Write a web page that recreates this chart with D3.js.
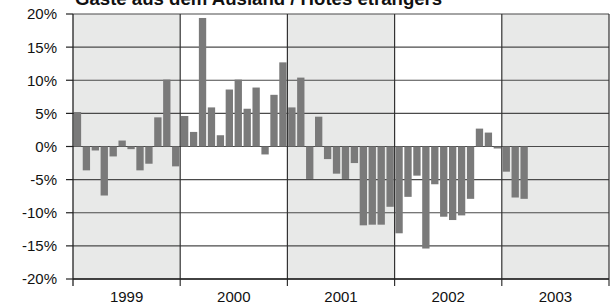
<!DOCTYPE html>
<html>
<head>
<meta charset="utf-8">
<script src="https://cdn.jsdelivr.net/npm/d3@7"></script>
<style>
body{margin:0;background:#fff;}
</style>
</head>
<body>
<script>
// monthly change, guests from abroad (%)
var years = ["1999", "2000", "2001", "2002", "2003"];
var values1999 = [5.2, -3.6, -0.6, -7.4, -1.5, 0.9, -0.4, -3.6, -2.6, 4.4, 10.1, -3.0];
var values2000 = [4.6, 2.2, 19.4, 5.9, 1.7, 8.6, 10.1, 5.7, 8.9, -1.2, 7.8, 12.7];
var values2001 = [5.9, 10.4, -4.9, 4.5, -1.9, -4.1, -4.9, -2.5, -11.9, -11.8, -11.8, -9.1];
var values2002 = [-13.1, -7.6, -4.4, -15.4, -5.7, -10.6, -11.1, -10.4, -7.9, 2.7, 2.1, -0.3];
var values2003 = [-3.8, -7.7, -7.9];
var yTicks = [-20, -15, -10, -5, 0, 5, 10, 15, 20];
var title = "Gäste aus dem Ausland / Hôtes étrangers";

var width = 612, height = 307;
var margin = {left:73, right:3, top:14, bottom:28};

var allValues = [values1999, values2000, values2001, values2002, values2003];
var data = [];
allValues.forEach(function(arr, yi){
   arr.forEach(function(v, m){
      data.push({key: yi*12 + m, value: v});
   });
});

var svg = d3.select("body").append("svg")
   .attr("width", width).attr("height", height);

var x = d3.scaleLinear().domain([0, years.length*12])
   .range([margin.left, width - margin.right]);
var y = d3.scaleLinear().domain([-20, 20])
   .range([height - margin.bottom, margin.top]);
var band = d3.scaleBand().domain(d3.range(years.length*12))
   .range([margin.left, width - margin.right]).paddingInner(0.18).paddingOuter(0.09);

// shaded years
svg.selectAll("rect.year").data(years).enter().append("rect")
   .attr("class","year")
   .attr("x", function(d,i){return x(i*12);})
   .attr("y", y(20))
   .attr("width", function(d,i){return x(12) - x(0);})
   .attr("height", y(-20) - y(20))
   .attr("fill", function(d,i){return i%2==0 ? "#e8e9e8" : "#ffffff";});

// horizontal grid
svg.selectAll("line.grid").data(yTicks).enter().append("line")
   .attr("class","grid")
   .attr("x1", margin.left).attr("x2", width - margin.right)
   .attr("y1", d => y(d)).attr("y2", d => y(d))
   .attr("stroke", "#4a4a4a")
   .attr("stroke-width", 1.2);

// year separators
svg.selectAll("line.sep").data(d3.range(1, years.length+1)).enter().append("line")
   .attr("class","sep")
   .attr("x1", d => x(d*12)).attr("x2", d => x(d*12))
   .attr("y1", y(20)).attr("y2", y(-20) + 7)
   .attr("stroke", "#333")
   .attr("stroke-width", 1.2);

// bars
svg.selectAll("rect.bar").data(data).enter().append("rect")
   .attr("class","bar")
   .attr("x", d => band(d.key))
   .attr("width", band.bandwidth())
   .attr("y", d => y(Math.max(0, d.value)))
   .attr("height", d => Math.max(1, Math.abs(y(d.value) - y(0))))
   .attr("fill", "#7a7a7a");

// left axis line
svg.append("line")
   .attr("x1", margin.left).attr("x2", margin.left)
   .attr("y1", y(20)).attr("y2", y(-20) + 7)
   .attr("stroke", "#222").attr("stroke-width", 1.3);

// y ticks
svg.selectAll("line.ytick").data(yTicks).enter().append("line")
   .attr("class","ytick")
   .attr("x1", margin.left - 7).attr("x2", margin.left)
   .attr("y1", d => y(d)).attr("y2", d => y(d))
   .attr("stroke", "#222").attr("stroke-width", 1.2);

svg.selectAll("text.ylab").data(yTicks).enter().append("text")
   .attr("class","ylab")
   .text(d => d + "%")
   .attr("x", 57)
   .attr("y", d => y(d))
   .attr("dy", "0.36em")
   .attr("text-anchor", "end")
   .attr("font-family", "Liberation Sans, Arial, sans-serif")
   .attr("font-size", "15px")
   .attr("fill", "#111");

// bottom axis line
svg.append("line")
   .attr("x1", margin.left).attr("x2", width - margin.right)
   .attr("y1", y(-20)).attr("y2", y(-20))
   .attr("stroke", "#222").attr("stroke-width", 1.3);

svg.selectAll("text.xlab").data(years).enter().append("text")
   .attr("class","xlab")
   .text(d => d)
   .attr("x", (d,i) => x(i*12 + 6))
   .attr("y", 302)
   .attr("text-anchor", "middle")
   .attr("font-family", "Liberation Sans, Arial, sans-serif")
   .attr("font-size", "15px")
   .attr("fill", "#111");

// title (cut at the top like the source)
svg.append("text")
   .text(title)
   .attr("x", 75)
   .attr("y", 5)
   .attr("font-family", "Liberation Sans, Arial, sans-serif")
   .attr("font-weight", "bold")
   .attr("font-size", "18.6px")
   .attr("fill", "#111");
</script>
</body>
</html>
